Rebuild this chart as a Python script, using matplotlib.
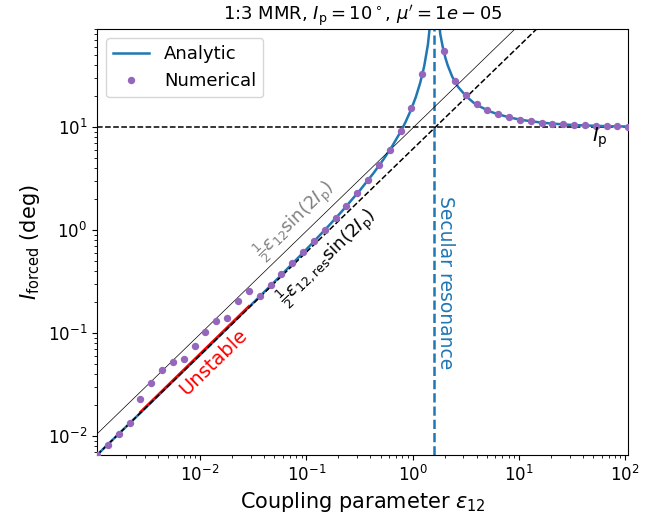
import numpy as np
import matplotlib
matplotlib.use("Agg")
import matplotlib.pyplot as plt

# planet inclination (deg) and location of the secular resonance in eps12
Ip = 10.0
eps_sec = 1.6

# analytic forced inclination (deg)
eps_an = [1.07e-3, 1.07e-2, 0.0321, 0.0535, 0.107, 0.1605, 0.214, 0.321, 0.428,
          0.535, 0.642, 0.749, 0.856, 0.963, 1.07, 1.177, 1.284, 1.391, 1.498, 1.5515,
          1.6585, 1.712, 1.819, 1.926, 2.033, 2.14, 2.354, 2.675, 3.21, 3.745, 4.28,
          5.35, 6.42, 8.56, 10.7, 16.05, 21.4, 32.1, 53.5, 74.9, 107.0]
I_an = [0.00655, 0.0658, 0.200, 0.337, 0.700, 1.09, 1.51, 2.46, 3.58, 4.92, 6.55,
        8.60, 11.2, 14.7, 19.6, 27.0, 39.2, 63.4, 130.0, 280.0,
        300.0, 150.0, 80.0, 59.0, 47.0, 39.7, 31.0, 24.6, 19.8, 17.3, 15.9, 14.2,
        13.3, 12.3, 11.75, 11.1, 10.8, 10.5, 10.3, 10.2, 10.15]

# N-body runs
eps_num = [1.070e-3, 1.354e-3, 1.712e-3, 2.166e-3, 2.739e-3, 3.464e-3, 4.382e-3,
           5.542e-3, 7.010e-3, 8.866e-3, 1.121e-2, 1.419e-2, 1.794e-2, 2.269e-2,
           2.871e-2, 3.631e-2, 4.592e-2, 5.809e-2, 7.347e-2, 9.293e-2, 0.1176,
           0.1486, 0.1881, 0.2379, 0.3009, 0.3805, 0.4813, 0.6088, 0.7701, 0.9740,
           1.232, 1.558, 1.971, 2.493, 3.153, 3.989, 5.045, 6.381, 8.071, 10.21,
           12.91, 16.33, 20.66, 26.13, 33.05, 41.80, 52.88, 66.89, 84.59, 107.0]
I_num = [0.0066, 0.0082, 0.0104, 0.0133, 0.0230, 0.0331, 0.0440, 0.0526, 0.0560,
         0.0741, 0.1014, 0.1325, 0.1416, 0.206, 0.254, 0.229, 0.291, 0.372, 0.477,
         0.611, 0.785, 1.013, 1.326, 1.73, 2.29, 3.09, 4.26, 6.02, 9.2, 15.4,
         32.9, 330.0, 54.7, 28.2, 20.5, 16.75, 14.7, 13.38, 12.48, 11.87,
         11.42, 11.09, 10.84, 10.65, 10.51, 10.40, 10.31, 10.25, 10.19, 10.15]

# range where the runs went unstable
eps_unst = [2.739e-3, 2.871e-2]
I_unst = [0.0171, 0.182]

xlims = [1.07e-3, 107.0]
ylims = [6.55e-3, 90]

fig = plt.figure(figsize=(6.6, 5.17), dpi=100)
ax = fig.add_axes([0.147, 0.12, 0.805, 0.824])

ax.plot(eps_an, I_an, color='C0', lw=1.8, label='Analytic', zorder=2)
ax.plot(eps_unst, I_unst, color='red', lw=1.8, zorder=2.2)
ax.plot(eps_num, I_num, 'o', color='C4', ms=4.3, label='Numerical', zorder=3)

# low-coupling limits
e = np.array(xlims)
s2 = np.sin(2 * np.radians(Ip))
ax.plot(e, np.degrees(0.5 * e * s2), color='k', lw=0.5, zorder=2.4)
ax.plot(e, np.degrees(0.5 * e / eps_sec * s2), 'k--', lw=1.1, zorder=2.5)

ax.axhline(Ip, color='k', ls='--', lw=1.1, zorder=1.5)
ax.axvline(eps_sec, color='C0', ls='--', lw=1.8, zorder=1.5)

ax.set_xscale('log')
ax.set_yscale('log')
ax.set_xlim(xlims)
ax.set_ylim(ylims)

ax.text(0.078, 1.23, r'$\frac{1}{2}\varepsilon_{12}\sin(2I_\mathrm{p})$', color='grey',
        fontsize=13, rotation=44, rotation_mode='anchor', ha='center', va='center')
ax.text(0.156, 0.538, r'$\frac{1}{2}\varepsilon_{12,\mathrm{res}}\sin(2I_\mathrm{p})$',
        color='k', fontsize=13, rotation=44, rotation_mode='anchor', ha='center', va='center')
ax.text(0.0132, 0.0526, 'Unstable', color='red', fontsize=14, rotation=44,
        rotation_mode='anchor', ha='center', va='center')
ax.text(2.02, 0.308, 'Secular resonance', color='C0', fontsize=13.5, rotation=270,
        ha='center', va='center')
ax.text(58.1, 7.87, r'$I_\mathrm{p}$', fontsize=14, ha='center', va='center')

ax.set_xlabel(r'Coupling parameter $\varepsilon_{12}$', fontsize=15)
ax.set_ylabel(r'$I_\mathrm{forced}$ (deg)', fontsize=15)
ax.set_title(r"1:3 MMR, $I_\mathrm{p}=10^\circ$, $\mu'=1e-05$", fontsize=13)
ax.tick_params(labelsize=12)
ax.legend(loc='upper left', fontsize=13)

fig.savefig('out.png', dpi=100)
